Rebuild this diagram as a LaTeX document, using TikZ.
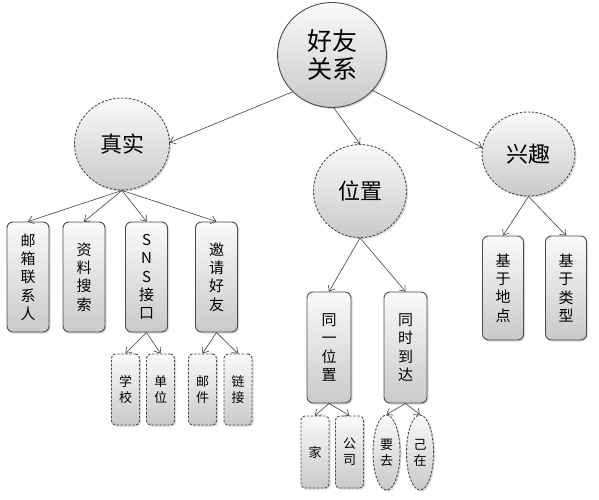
\documentclass[tikz,border=0pt]{standalone}
\usepackage{fontspec}
\setmainfont{Noto Sans CJK SC}
\usetikzlibrary{shapes.geometric, shadows, arrows.meta}
\tikzset{
  basenode/.style = {align=center, inner sep=0pt, draw=black!70, top color=gray!4, bottom color=gray!42,
                     drop shadow={shadow xshift=1.5pt, shadow yshift=-1.5pt, opacity=.3}},
  rootnode/.style = {basenode, ellipse, line width=0.9pt, minimum width=109pt, minimum height=105pt, font=\fontsize{25}{28}\selectfont},
  catnode/.style  = {basenode, ellipse, line width=0.9pt, dash pattern=on 2.5pt off 1.5pt, font=\fontsize{22}{26}\selectfont},
  leafbox/.style  = {basenode, rectangle, rounded corners=6pt, line width=0.9pt, minimum width=42pt, minimum height=110pt, font=\fontsize{15}{18.3}\selectfont},
  subbox/.style   = {basenode, rectangle, rounded corners=4pt, line width=0.9pt, dash pattern=on 2.5pt off 1.5pt, minimum width=28pt, minimum height=71pt, font=\fontsize{13}{16}\selectfont},
  subell/.style   = {basenode, ellipse, line width=0.9pt, dash pattern=on 2.5pt off 1.5pt, minimum width=27pt, minimum height=75pt, font=\fontsize{13}{16}\selectfont},
  link/.style     = {-{Straight Barb[length=5pt,width=8pt]}, draw=black!75, line width=0.6pt}
}

\begin{document}
\begin{tikzpicture}[x=1pt, y=-1pt]
    \useasboundingbox (0,0) rectangle (599,500);

    % top level
    \node[rootnode] (root) at (332,55) {好友\\关系};
    \node[catnode, minimum width=95pt, minimum height=92pt] (zs) at (122,144) {真实};
    \node[catnode, minimum width=93pt, minimum height=93pt] (wz) at (360,191) {位置};
    \node[catnode, minimum width=93pt, minimum height=84pt] (xq) at (528.5,154) {兴趣};

    % 真实
    \node[leafbox] (yx) at (28,277) {邮\\箱\\联\\系\\人};
    \node[leafbox] (zl) at (84,277) {资\\料\\搜\\索};
    \node[leafbox] (sns) at (146.5,277) {S\\N\\S\\接\\口};
    \node[leafbox] (yq) at (216.5,277) {邀\\请\\好\\友};
    \node[subbox] (xx) at (125.5,389.5) {学\\校};
    \node[subbox] (dw) at (160.5,389.5) {单\\位};
    \node[subbox] (yj) at (202.5,389.5) {邮\\件};
    \node[subbox] (lj) at (238,389.5) {链\\接};

    % 位置
    \node[leafbox, minimum width=44pt, minimum height=111pt] (tyw) at (329,347.5) {同\\一\\位\\置};
    \node[leafbox, minimum width=43pt, minimum height=111pt] (tsd) at (405.5,347.5) {同\\时\\到\\达};
    \node[subbox, minimum height=72pt] (jia) at (315,452) {家};
    \node[subbox, minimum height=72pt] (gs) at (349.5,452) {公\\司};
    \node[subell] (yqu) at (386.5,452.5) {要\\去};
    \node[subell] (yz) at (420,452.5) {己\\在};

    % 兴趣
    \node[leafbox, minimum width=41pt, minimum height=104pt] (dd) at (503,288) {基\\于\\地\\点};
    \node[leafbox, minimum width=41pt, minimum height=104pt] (lx) at (566,288) {基\\于\\类\\型};

    % connectors
    \draw[link] (root.223) -- (zs.2);
    \draw[link] (root.-88) -- (wz.north);
    \draw[link] (root.-41) -- (xq.172);
    \foreach \kid in {yx, zl, sns, yq}
        \draw[link] (zs.south) -- (\kid.north);
    \foreach \kid in {xx, dw}
        \draw[link] (sns.south) -- (\kid.north);
    \foreach \kid in {yj, lj}
        \draw[link] (yq.south) -- (\kid.north);
    \foreach \kid in {tyw, tsd}
        \draw[link] (wz.south) -- (\kid.north);
    \foreach \kid in {jia, gs}
        \draw[link] (tyw.south) -- (\kid.north);
    \foreach \kid in {yqu, yz}
        \draw[link] (tsd.south) -- (\kid.north);
    \foreach \kid in {dd, lx}
        \draw[link] (xq.south) -- (\kid.north);
\end{tikzpicture}
\end{document}
